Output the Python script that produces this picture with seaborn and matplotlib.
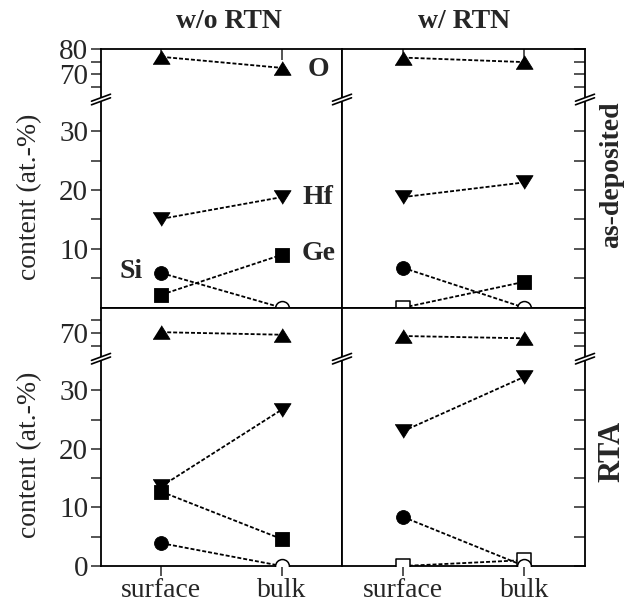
import numpy as np
import pandas as pd
import matplotlib
matplotlib.use("Agg")
import matplotlib.pyplot as plt
import seaborn as sns
from matplotlib.lines import Line2D
from matplotlib.patches import Polygon

# ---------------- data ----------------
positions = ["surface", "bulk"]
treatments = ["w/o RTN", "w/ RTN"]
anneals = ["as-deposited", "RTA"]
elements = ["O", "Hf", "Ge", "Si"]
# panel order: (as-deposited, w/o RTN), (as-deposited, w/ RTN), (RTA, w/o RTN), (RTA, w/ RTN)
O_content = [[77.0, 72.6], [76.7, 74.9], [70.4, 69.4], [68.9, 68.0]]
Hf_content = [[15.1, 18.8], [18.8, 21.3], [13.6, 26.7], [23.0, 32.3]]
Ge_content = [[2.2, 9.0], [0.0, 4.4], [12.7, 4.6], [0.0, 1.0]]
Si_content = [[5.9, 0.0], [6.8, 0.0], [3.9, 0.0], [8.4, 0.0]]
Ge_below_limit = [[False, False], [True, False], [False, False], [True, True]]
Si_below_limit = [[False, True], [False, True], [False, True], [False, True]]
O_below_limit = [[False, False]] * 4
Hf_below_limit = [[False, False]] * 4

contents = {"O": O_content, "Hf": Hf_content, "Ge": Ge_content, "Si": Si_content}
below = {"O": O_below_limit, "Hf": Hf_below_limit, "Ge": Ge_below_limit, "Si": Si_below_limit}

rows = []
for p in range(4):
    for el in elements:
        for i, pos in enumerate(positions):
            rows.append(dict(panel=p, element=el, position=pos, xpos=i,
                             content=contents[el][p][i], open=below[el][p][i]))
df = pd.DataFrame(rows)

# ---------------- style ----------------
sns.set_style("ticks")
plt.rcParams["font.family"] = ["Liberation Serif", "DejaVu Serif"]
plt.rcParams["mathtext.fontset"] = "stix"

W, H = 626, 607
fig = plt.figure(figsize=(W / 100, H / 100), dpi=100)
fig.patch.set_facecolor("white")

col_x = [(101, 342), (342, 585)]
row_y = [(49.3, 99.5, 307.7), (307.7, 358.7, 566.0)]
UP_LIM = (60, 80)
LO_LIM = (0, 35.4)


def rect(x0, x1, y0, y1):
    return [x0 / W, 1 - y1 / H, (x1 - x0) / W, (y1 - y0) / H]


tri_up = [(-1, -0.8), (1, -0.8), (0, 0.8)]
tri_dn = [(-1, 0.8), (1, 0.8), (0, -0.8)]
markers = {"O": tri_up, "Hf": tri_dn, "Ge": "s", "Si": "o"}
sizes = {"O": 150, "Hf": 150, "Ge": 92, "Si": 100}
LW_SPINE = 1.3
dash = (0, (2.2, 1.1))
TICK_FS = 21

for r in range(2):
    ytop, ybrk, ybot = row_y[r]
    for c in range(2):
        p = r * 2 + c
        x0, x1 = col_x[c]
        up = fig.add_axes(rect(x0, x1, ytop, ybrk))
        lo = fig.add_axes(rect(x0, x1, ybrk, ybot))
        for ax, lim in ((up, UP_LIM), (lo, LO_LIM)):
            ax.set_xlim(-0.5, 1.5)
            ax.set_ylim(*lim)
            for s in ax.spines.values():
                s.set_linewidth(LW_SPINE)
                s.set_color("black")
        up.spines["bottom"].set_visible(False)
        lo.spines["top"].set_visible(False)

        sub = df[df.panel == p]
        for el in elements:
            ax = up if el == "O" else lo
            d = sub[sub.element == el]
            sns.lineplot(data=d, x="xpos", y="content", color="black", lw=1.3,
                         linestyle=dash, ax=ax, zorder=2, legend=False,
                         errorbar=None, sort=True)
            filled = d[~d.open]
            hollow = d[d.open]
            if len(filled):
                sns.scatterplot(data=filled, x="xpos", y="content", marker=markers[el],
                                s=sizes[el], color="black", edgecolor="black",
                                linewidth=0.6, ax=ax, zorder=3, legend=False,
                                clip_on=True)
            if len(hollow):
                sns.scatterplot(data=hollow, x="xpos", y="content", marker=markers[el],
                                s=sizes[el], color="white", edgecolor="black",
                                linewidth=1.1, ax=ax, zorder=3, legend=False,
                                clip_on=True)
        for ax in (up, lo):
            ax.set_xlabel("")
            ax.set_ylabel("")

        # y ticks
        up.set_yticks([70, 80] if r == 0 else [70])
        up.set_yticks([65, 75], minor=True)
        lo.set_yticks([10, 20, 30] if r == 0 else [0, 10, 20, 30])
        lo.set_yticks([5, 15, 25], minor=True)
        for ax in (up, lo):
            if c == 0:
                ax.tick_params(axis="y", which="both", direction="out", length=7.3,
                               width=1.1, labelsize=TICK_FS, pad=2, left=True,
                               right=False, labelleft=True, labelright=False)
            else:
                ax.yaxis.tick_right()
                ax.tick_params(axis="y", which="both", direction="in", length=8,
                               width=1.1, left=False, right=True,
                               labelleft=False, labelright=False)
        # x ticks
        for ax in (up, lo):
            ax.set_xticks([0, 1])
            ax.tick_params(axis="x", bottom=False, top=False, labelbottom=False,
                           labeltop=False)
        if r == 0:
            up.tick_params(axis="x", top=True, direction="in", length=8, width=1.1)
        else:
            lo.set_xticklabels(positions)
            lo.tick_params(axis="x", bottom=True, direction="out", length=7.5,
                           width=1.1, labelbottom=True, labelsize=20, pad=1)

        if p == 0:
            kw = dict(textcoords="offset pixels", fontsize=20, fontweight="bold",
                      va="center", annotation_clip=False)
            up.annotate("O", xy=(1, O_content[0][1]), xytext=(26, -2), ha="left", **kw)
            lo.annotate("Hf", xy=(1, Hf_content[0][1]), xytext=(21, 0), ha="left", **kw)
            lo.annotate("Ge", xy=(1, Ge_content[0][1]), xytext=(20, 1), ha="left", **kw)
            lo.annotate("Si", xy=(0, Si_content[0][0]), xytext=(-19, 1), ha="right", **kw)

    # break marks
    for xb in (101, 342, 585):
        yb = ybrk
        dx, dy, sep = 9.5, 3.5, 1.8

        def P(x, y):
            return (x / W, 1 - y / H)
        poly = Polygon([P(xb - dx, yb + dy + sep), P(xb + dx, yb - dy + sep),
                        P(xb + dx, yb - dy - sep), P(xb - dx, yb + dy - sep)],
                       closed=True, transform=fig.transFigure, facecolor="white",
                       edgecolor="none", zorder=10)
        fig.add_artist(poly)
        for s in (sep, -sep):
            ln = Line2D([(xb - dx) / W, (xb + dx) / W],
                        [1 - (yb + dy + s) / H, 1 - (yb - dy + s) / H],
                        transform=fig.transFigure, color="black", lw=1.2, zorder=11)
            fig.add_artist(ln)

# titles and labels
fig.text(229 / W, 1 - 22 / H, treatments[0], ha="center", va="center",
         fontsize=20, fontweight="bold")
fig.text(464 / W, 1 - 22 / H, treatments[1], ha="center", va="center",
         fontsize=20, fontweight="bold")
fig.text(612 / W, 1 - 175 / H, anneals[0], ha="center", va="center", rotation=90,
         fontsize=20, fontweight="bold")
fig.text(612 / W, 1 - 451 / H, anneals[1], ha="center", va="center", rotation=90,
         fontsize=22, fontweight="bold")
for yc in (197, 455):
    fig.text(30 / W, 1 - yc / H, "content (at.-%)", ha="center", va="center",
             rotation=90, fontsize=20)

fig.savefig("out.png", dpi=100, facecolor="white")
